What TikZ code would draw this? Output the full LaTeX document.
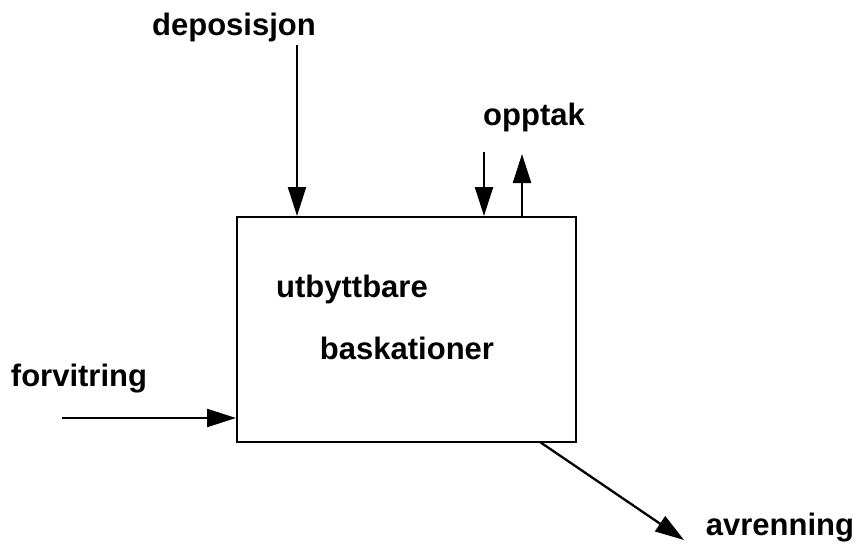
\documentclass[tikz,border=0pt]{standalone}
\usepackage{fontspec}
\setmainfont{Liberation Sans}
\usepackage{tikz}
\usetikzlibrary{calc, arrows, arrows.meta, positioning}

\begin{document}
\begin{tikzpicture}[
   x = 1pt, y = -1pt,
   line width = 2.3pt,
   -{Triangle[length=29pt, width=18pt]},
   label/.style = {font=\fontsize{31}{33}\selectfont\bfseries, inner sep=0pt, anchor=base}]
   \useasboundingbox (0,0) rectangle (857,549);
   \node[draw, -, line width=2pt, minimum width=339pt, minimum height=225pt, inner sep=0pt]  (box) at (406.5,329.5) {};
   \node[label]  (utb) at (352,297) {utbyttbare};
   \node[label]  (bask) at (407,359) {baskationer};

   \node[label]  (dep) at (234,35) {deposisjon};
   \node[label]  (opp) at (534,125) {opptak};
   \node[label]  (forv) at (79,386) {forvitring};
   \node[label]  (avr) at (780,535) {avrenning};

   \coordinate (depstart) at (297,45);
   \coordinate (oppin) at (484,152);
   \coordinate (oppout) at (522,154);
   \coordinate (forvstart) at (62,418);
   \coordinate (avrstart) at (540,442);
   \coordinate (avrend) at (684,540);

   \draw (depstart) -- (depstart |- box.north);
   \draw (oppin) -- (oppin |- box.north);
   \draw (oppout |- box.north) -- (oppout);
   \draw (forvstart) -- (forvstart -| box.west);
   \draw (avrstart) -- (avrend);
\end{tikzpicture}
\end{document}
